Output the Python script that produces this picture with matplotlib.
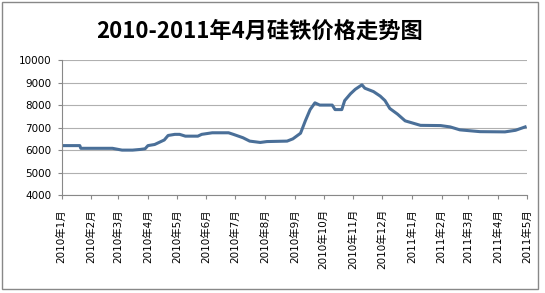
# 2010-2011年4月 硅铁价格走势图

import matplotlib
matplotlib.use('Agg')
import matplotlib.pyplot as plt
import pandas as pd

plt.rcParams['font.family'] = ['Noto Sans CJK SC', 'DejaVu Sans']

# Price data (元/吨)
dates = ['2010-01-01', '2010-01-20', '2010-01-21', '2010-02-23', '2010-03-05',
         '2010-03-16', '2010-03-24', '2010-03-29', '2010-04-01', '2010-04-08',
         '2010-04-13', '2010-04-18', '2010-04-22', '2010-04-29', '2010-05-04',
         '2010-05-10', '2010-05-23', '2010-05-27', '2010-06-07', '2010-06-24',
         '2010-06-29', '2010-07-09', '2010-07-16', '2010-07-27', '2010-08-03',
         '2010-08-24', '2010-08-30', '2010-09-07', '2010-09-12', '2010-09-17',
         '2010-09-22', '2010-09-27', '2010-10-10', '2010-10-13', '2010-10-20',
         '2010-10-23', '2010-10-29', '2010-11-03', '2010-11-10', '2010-11-13',
         '2010-11-22', '2010-11-29', '2010-12-04', '2010-12-09', '2010-12-17',
         '2010-12-25', '2011-01-10', '2011-01-31', '2011-02-10', '2011-02-20',
         '2011-03-13', '2011-04-08', '2011-04-19', '2011-04-29']
prices = [6200, 6200, 6080, 6080, 6000,
          6000, 6030, 6060, 6200, 6250,
          6350, 6450, 6650, 6700, 6700,
          6620, 6620, 6700, 6770, 6770,
          6700, 6550, 6400, 6340, 6380,
          6400, 6500, 6750, 7300, 7800,
          8100, 8000, 8000, 7800, 7800,
          8200, 8500, 8700, 8900, 8750,
          8600, 8400, 8200, 7850, 7600,
          7300, 7100, 7090, 7030, 6900,
          6820, 6810, 6880, 7030]

y_ticks = [4000, 5000, 6000, 7000, 8000, 9000, 10000]

df = pd.DataFrame({'date': pd.to_datetime(dates), 'price': prices})

fig = plt.figure(figsize=(5.45, 2.93), dpi=100)
ax = fig.add_axes([0.113, 0.334, 0.854, 0.461])

ax.plot(df['date'], df['price'], color='#4a6f98', linewidth=2.2)

ax.set_xlim(pd.Timestamp('2010-01-01'), pd.Timestamp('2011-05-01'))
ax.set_ylim(4000, 10000)
ax.set_yticks(y_ticks)
ax.set_yticklabels([str(v) for v in y_ticks], family='DejaVu Sans', fontsize=7.5)
ax.yaxis.grid(True, color='#b0b0b0', linewidth=0.8)
ax.set_axisbelow(True)

month_ticks = pd.date_range('2010-01-01', '2011-05-01', freq='MS')
ax.set_xticks(month_ticks)
ax.set_xticklabels([f'{d.year}年{d.month}月' for d in month_ticks],
                   rotation=90, fontsize=7.5, family=['DejaVu Sans', 'Noto Sans CJK SC'])
ax.tick_params(axis='y', length=3, color='#888888', pad=4.5)
ax.tick_params(axis='x', length=3, color='#888888', pad=7)

for side in ['top', 'right']:
    ax.spines[side].set_visible(False)
for side in ['left', 'bottom']:
    ax.spines[side].set_color('#888888')
    ax.spines[side].set_linewidth(0.8)

fig.text(0.477, 0.895, '2010-2011年4月硅铁价格走势图', ha='center', va='center',
         fontsize=16, fontweight='bold')

# chart frame
fig.patches.append(plt.Rectangle((0.004, 0.012), 0.984, 0.982, transform=fig.transFigure,
                                 fill=False, edgecolor='#888888', linewidth=1))

fig.savefig('out.png', dpi=100)
